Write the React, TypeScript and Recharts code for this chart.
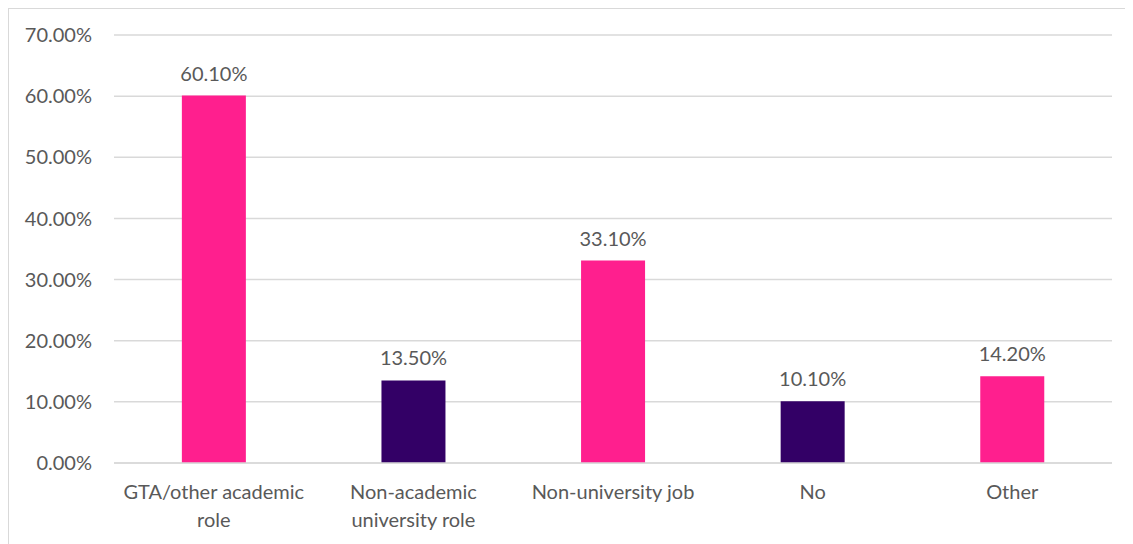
import React from "react";
import { BarChart, Bar, XAxis, YAxis, CartesianGrid, LabelList, Cell } from "recharts";

const categories = [
  "GTA/other academic\nrole",
  "Non-academic\nuniversity role",
  "Non-university job",
  "No",
  "Other",
];
const values = [60.1, 13.5, 33.1, 10.1, 14.2];
const barColors = ["#FF1F8E", "#330066", "#FF1F8E", "#330066", "#FF1F8E"];
const yTicks = [0, 10, 20, 30, 40, 50, 60, 70];

const data = categories.map((c, i) => ({ name: c, value: values[i] }));

const FONT = "Lato, 'Open Sans', sans-serif";
const TEXT = "#595959";

const XTick = (props: any) => {
  const { x, y, payload } = props;
  const lines = String(payload.value).split("\n");
  return (
    <text x={x} y={y} textAnchor="middle" fill={TEXT} fontFamily={FONT} fontSize={20}>
      {lines.map((l: string, i: number) => (
        <tspan key={i} x={x} dy={i === 0 ? 28 : 28}>
          {l}
        </tspan>
      ))}
    </text>
  );
};

export default function App() {
  return (
    <div
      style={{
        width: 1125,
        height: 536,
        borderTop: "1px solid #d9d9d9",
        borderLeft: "1px solid #d9d9d9",
        boxSizing: "border-box",
        background: "#fff",
      }}
    >
      <BarChart
        width={1124}
        height={535}
        data={data}
        margin={{ top: 26, right: 21, left: 0, bottom: 0 }}
        barCategoryGap="34%"
      >
        <CartesianGrid vertical={false} stroke="#d9d9d9" strokeWidth={1.5} />
        <XAxis
          dataKey="name"
          tick={<XTick />}
          tickLine={false}
          axisLine={{ stroke: "#d9d9d9", strokeWidth: 1.5 }}
          interval={0}
          height={81}
        />
        <YAxis
          width={105}
          domain={[0, 70]}
          ticks={yTicks}
          tickFormatter={(v: number) => v.toFixed(2) + "%"}
          tick={{ fill: TEXT, fontFamily: FONT, fontSize: 20 }}
          tickLine={false}
          axisLine={false}
          tickMargin={16}
        />
        <Bar dataKey="value" isAnimationActive={false}>
          {data.map((d, i) => (
            <Cell key={i} fill={barColors[i]} />
          ))}
          <LabelList
            dataKey="value"
            position="top"
            offset={15}
            formatter={(v: number) => v.toFixed(2) + "%"}
            style={{ fill: TEXT, fontFamily: FONT, fontSize: 20 }}
          />
        </Bar>
      </BarChart>
    </div>
  );
}
